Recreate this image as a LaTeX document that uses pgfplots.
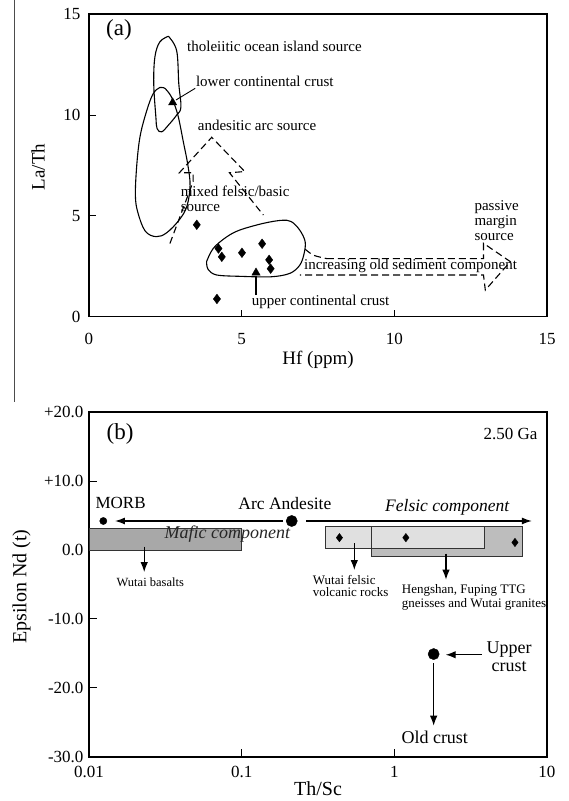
\documentclass[border=0pt]{standalone}
\usepackage{pgfplots}
\pgfplotsset{compat=1.18}
\usepackage{fontspec}
\setmainfont{Liberation Serif}
\usetikzlibrary{arrows.meta}
\definecolor{dkgray}{HTML}{A8A8A8}
\definecolor{mdgray}{HTML}{BDBDBD}
\definecolor{ltgray}{HTML}{E0E0E0}
\newcommand{\fs}[1]{\fontsize{#1}{#1}\selectfont}
\begin{document}
\begin{tikzpicture}
\path[use as bounding box] (0pt,0pt) rectangle (568pt,801pt);
\draw[black!70, line width=0.9pt] (14pt,801pt) -- (14pt,399pt);

% ---------------- Panel (a) ----------------
\begin{axis}[
  at={(89pt,484.3pt)}, anchor=south west,
  scale only axis, width=458pt, height=302.4pt,
  xmin=0, xmax=15, ymin=0, ymax=15,
  xtick={0,5,10,15}, xticklabels={0,5,10,15},
  ytick={0,5,10,15}, yticklabels={0,5,10,15},
  tick align=inside, xtick pos=bottom, ytick pos=left,
  major tick length=7pt,
  axis line style={line width=1.6pt},
  every tick/.style={line width=1pt, black},
  ticklabel style={font=\fs{17}},
  xticklabel style={yshift=-13pt},
  yticklabel style={xshift=-5pt},
  xlabel={Hf (ppm)}, ylabel={La/Th},
  label style={font=\fs{19}},
  xlabel style={at={(axis description cs:0.5,-0.143)}, anchor=center},
  ylabel style={at={(axis description cs:-0.111,0.495)}, anchor=center},
  clip=false,
]
% tholeiitic ocean island source field
\addplot[black, line width=1.1pt, smooth, tension=0.6] coordinates {
 (2.60,13.91) (2.87,13.2) (2.94,11.57) (3.01,10.4) (2.87,10.0) (2.60,9.5)
 (2.38,9.17) (2.23,9.33) (2.19,9.91) (2.12,11.57) (2.16,12.9) (2.32,13.63) (2.60,13.91)};
% lower continental crust large field
\addplot[black, line width=1.1pt, smooth, tension=0.6] coordinates {
 (2.49,11.32) (2.70,10.9) (2.91,10.0) (3.09,8.67) (3.24,7.5) (3.31,6.5)
 (3.21,5.5) (2.97,4.83) (2.55,4.17) (2.20,3.97) (1.84,4.25) (1.60,5.17)
 (1.52,6.0) (1.56,7.43) (1.66,8.83) (1.83,9.91) (2.08,11.0) (2.32,11.37) (2.49,11.32)};
% upper continental crust field
\addplot[black, line width=1.1pt, smooth, tension=0.55] coordinates {
 (3.85,2.73) (4.07,3.39) (4.50,3.95) (4.94,4.30) (5.71,4.63) (6.30,4.78)
 (6.62,4.72) (6.90,4.30) (7.08,3.72) (7.04,3.10) (6.90,2.55) (6.58,2.15)
 (5.97,1.98) (5.00,2.00) (4.18,2.07) (3.90,2.35) (3.85,2.73)};
% andesitic arc source (dashed arrow)
\addplot[black, line width=1.1pt, dash pattern=on 7pt off 4pt] coordinates {
 (2.65,3.63) (3.41,6.70) (3.41,7.14) (2.96,7.14) (4.02,8.90) (5.10,7.20)
 (4.60,7.14) (5.71,5.04)};
% increasing old sediment component (dashed arrow)
\addplot[black, line width=1.1pt, dash pattern=on 7pt off 4pt, smooth] coordinates {
 (7.08,3.35) (7.35,3.05) (7.79,2.88)};
\addplot[black, line width=1.1pt, dash pattern=on 7pt off 4pt] coordinates {
 (7.79,2.88) (12.92,2.88) (12.92,3.64) (13.80,2.73) (12.98,1.32) (12.92,2.07) (6.91,2.07)};
% samples
\addplot[only marks, mark=diamond*, mark size=4.8pt, black] coordinates {
 (3.53,4.56) (4.24,3.38) (4.35,2.97) (5.01,3.17) (5.67,3.62) (5.90,2.82) (5.95,2.38) (4.19,0.88)};
% triangles: lower and upper continental crust
\draw[black, line width=0.9pt] (axis cs:3.48,11.33) -- (axis cs:2.85,10.75);
\draw[black, line width=1.1pt] (axis cs:5.47,1.07) -- (axis cs:5.47,2.0);
\addplot[only marks, mark=triangle*, mark size=4.8pt, black] coordinates {(2.74,10.62) (5.47,2.18)};
% labels
\node[font=\fs{23}] at (axis cs:0.98,14.2) {(a)};
\node[anchor=west, font=\fs{15}, inner sep=0pt] at (axis cs:3.21,13.4) {tholeiitic ocean island source};
\node[anchor=west, font=\fs{15}, inner sep=0pt] at (axis cs:3.50,11.67) {lower continental crust};
\node[anchor=west, font=\fs{15}, inner sep=0pt] at (axis cs:3.56,9.50) {andesitic arc source};
\node[anchor=west, font=\fs{15}, inner sep=0pt, align=left] at (axis cs:3.00,5.86) {mixed felsic/basic\\[-0.5pt]source};
\node[anchor=west, font=\fs{15}, inner sep=0pt, align=left] at (axis cs:12.62,4.77) {passive\\[0pt]margin\\[0pt]source};
\node[anchor=west, font=\fs{15}, inner sep=0pt] at (axis cs:7.04,2.51) {increasing old sediment component};
\node[anchor=west, font=\fs{15}, inner sep=0pt] at (axis cs:5.33,0.74) {upper continental crust};
\end{axis}

% ---------------- Panel (b) ----------------
\begin{axis}[
  at={(89pt,44.3pt)}, anchor=south west,
  scale only axis, width=458pt, height=344.4pt,
  xmode=log, xmin=0.01, xmax=10, ymin=-30, ymax=20,
  xtick={0.01,0.1,1,10}, xticklabels={0.01,0.1,1,10},
  ytick={-30,-20,-10,0,10,20}, yticklabels={-30.0,-20.0,-10.0,0.0,+10.0,+20.0},
  xminorticks=false, yminorticks=false,
  tick align=inside, xtick pos=bottom, ytick pos=left,
  major tick length=8pt,
  axis line style={line width=1.6pt},
  every tick/.style={line width=1pt, black},
  ticklabel style={font=\fs{17}},
  xticklabel style={yshift=-6pt},
  yticklabel style={xshift=-2pt},
  xlabel={Th/Sc}, ylabel={Epsilon Nd (t)},
  label style={font=\fs{20}},
  xlabel style={at={(axis description cs:0.5,-0.093)}, anchor=center},
  ylabel style={at={(axis description cs:-0.147,0.494)}, anchor=center},
  clip=false,
]
% Wutai basalts box
\addplot[fill=dkgray, draw=black!80, line width=0.9pt] coordinates {
 (0.01,0) (0.0997,0) (0.0997,3.2) (0.01,3.2)} -- cycle;
% Hengshan / Fuping box
\addplot[fill=mdgray, draw=black!80, line width=0.9pt] coordinates {
 (0.705,-1.0) (6.89,-1.0) (6.89,3.5) (0.705,3.5)} -- cycle;
% Wutai felsic volcanic box
\addplot[fill=ltgray, draw=black!80, line width=0.9pt] coordinates {
 (0.352,0.26) (3.92,0.26) (3.92,3.5) (0.352,3.5)} -- cycle;
\addplot[draw=black!80, line width=0.9pt] coordinates {(0.705,3.5) (0.705,0.26)};
% samples
\addplot[only marks, mark=diamond*, mark size=4.2pt, black] coordinates {
 (0.437,1.8) (1.19,1.8) (6.17,1.1)};
% end members
\addplot[only marks, mark=*, mark size=3.6pt, black] coordinates {(0.01241,4.22)};
\addplot[only marks, mark=*, mark size=5.6pt, black] coordinates {(0.2128,4.22) (1.81,-15.1)};
% arrows
\draw[black, line width=1.2pt, -{Latex[length=10pt,width=7pt]}] (axis cs:0.187,4.22) -- (axis cs:0.0148,4.22);
\draw[black, line width=1.2pt, -{Latex[length=10pt,width=7pt]}] (axis cs:0.264,4.22) -- (axis cs:7.96,4.22);
\draw[black, line width=1.2pt, -{Latex[length=10pt,width=7.5pt]}] (axis cs:0.023,0.5) -- (axis cs:0.023,-3.2);
\draw[black, line width=1.2pt, -{Latex[length=10pt,width=7.5pt]}] (axis cs:0.547,1.0) -- (axis cs:0.547,-2.9);
\draw[black, line width=1.2pt, -{Latex[length=10pt,width=7.5pt]}] (axis cs:2.18,-0.5) -- (axis cs:2.18,-4.3);
\draw[black, line width=1.2pt, -{Latex[length=10pt,width=7.5pt]}] (axis cs:3.75,-15.2) -- (axis cs:2.17,-15.2);
\draw[black, line width=1.2pt, -{Latex[length=10pt,width=7.5pt]}] (axis cs:1.81,-16.4) -- (axis cs:1.81,-25.5);
% labels
\node[font=\fs{23}] at (axis cs:0.016,16.85) {(b)};
\node[anchor=east, font=\fs{17}, inner sep=0pt] at (axis cs:8.69,16.85) {2.50 Ga};
\node[font=\fs{17}] at (axis cs:0.0161,6.79) {MORB};
\node[font=\fs{17.5}] at (axis cs:0.192,6.79) {Arc Andesite};
\node[font=\fs{17.5}\itshape] at (axis cs:2.22,6.2) {Felsic component};
\node[font=\fs{18}\itshape, text=black!85] at (axis cs:0.0806,2.29) {Mafic component};
\node[font=\fs{12.5}] at (axis cs:0.0252,-4.7) {Wutai basalts};
\node[anchor=west, font=\fs{13}, inner sep=0pt, align=left] at (axis cs:0.2919,-5.27) {Wutai felsic\\[-1pt]volcanic rocks};
\node[anchor=west, font=\fs{13}, inner sep=0pt, align=left] at (axis cs:1.117,-6.84) {Hengshan, Fuping TTG\\[0.5pt]gneisses and Wutai granites};
\node[font=\fs{18}, align=center] at (axis cs:5.64,-15.5) {Upper\\[0pt]crust};
\node[font=\fs{18}] at (axis cs:1.84,-27.2) {Old crust};
\end{axis}
\end{tikzpicture}
\end{document}
